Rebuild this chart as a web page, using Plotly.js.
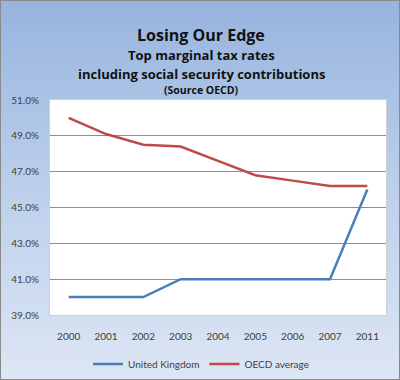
<!DOCTYPE html>
<html>
<head>
<meta charset="utf-8">
<script src="https://cdn.plot.ly/plotly-3.0.1.min.js"></script>
<style>
  html, body { margin: 0; padding: 0; background: #ffffff; }
  #chart {
    width: 400px; height: 380px; box-sizing: border-box;
    border: 1px solid #8a8a8a;
    background: linear-gradient(to bottom, #97b4df 0%, #b9cdea 45%, #dde6f4 100%);
  }
</style>
</head>
<body>
<div id="chart"></div>
<script>
const years = ["2000", "2001", "2002", "2003", "2004", "2005", "2006", "2007", "2011"];
const ukRates = [40.0, 40.0, 40.0, 41.0, 41.0, 41.0, 41.0, 41.0, 46.0];
const oecdRates = [50.0, 49.1, 48.5, 48.4, 47.6, 46.8, 46.5, 46.2, 46.2];
const seriesNames = ["United Kingdom", "OECD average"];
const yTicks = [39, 41, 43, 45, 47, 49, 51];

const font = "Lato, 'Open Sans', 'DejaVu Sans', sans-serif";
const tfont = "'Open Sans', Lato, 'DejaVu Sans', sans-serif";

const traces = [
  { x: years, y: ukRates, name: seriesNames[0], type: "scatter", mode: "lines",
    line: { color: "#4a7ebb", width: 2.5 } },
  { x: years, y: oecdRates, name: seriesNames[1], type: "scatter", mode: "lines",
    line: { color: "#be4b48", width: 2.5 } }
];

const cx = (200 - 49) / 336;
const py = p => (314 - p) / 215;

const layout = {
  width: 398, height: 378,
  margin: { l: 49, r: 13, t: 99, b: 64, pad: 0, autoexpand: false },
  paper_bgcolor: "rgba(0,0,0,0)",
  plot_bgcolor: "#ffffff",
  font: { family: font, size: 10, color: "#404040" },
  showlegend: true,
  legend: { orientation: "h", x: cx, xanchor: "center", y: py(363), yanchor: "middle",
            font: { family: font, size: 10, color: "#404040" }, bgcolor: "rgba(0,0,0,0)" },
  xaxis: { type: "category", range: [-0.5, 8.5], showgrid: false, zeroline: false,
           showline: true, linecolor: "#d0d0d0", mirror: true, ticks: "",
           ticklabelstandoff: 12, tickfont: { family: font, size: 10, color: "#404040" } },
  yaxis: { range: [39, 51], tickvals: yTicks, ticktext: yTicks.map(v => v.toFixed(1) + "%"),
           showgrid: true, gridcolor: "#8c8c8c", gridwidth: 1, zeroline: false,
           showline: true, linecolor: "#d0d0d0", mirror: true, ticks: "",
           ticklabelstandoff: 8, tickfont: { family: font, size: 10, color: "#404040" } },
  annotations: [
    { text: "<b>Losing Our Edge</b>", xref: "paper", yref: "paper", x: cx, y: py(21),
      showarrow: false, font: { family: tfont, size: 16, color: "#111111" } },
    { text: "<b>Top marginal tax rates</b>", xref: "paper", yref: "paper", x: cx, y: py(43),
      showarrow: false, font: { family: tfont, size: 13, color: "#111111" } },
    { text: "<b>including social security contributions</b>", xref: "paper", yref: "paper", x: cx, y: py(62),
      showarrow: false, font: { family: tfont, size: 13, color: "#111111" } },
    { text: "<b>(Source OECD)</b>", xref: "paper", yref: "paper", x: cx, y: py(80),
      showarrow: false, font: { family: tfont, size: 10.5, color: "#111111" } }
  ]
};

Plotly.newPlot("chart", traces, layout, { displayModeBar: false, staticPlot: true });
</script>
</body>
</html>
